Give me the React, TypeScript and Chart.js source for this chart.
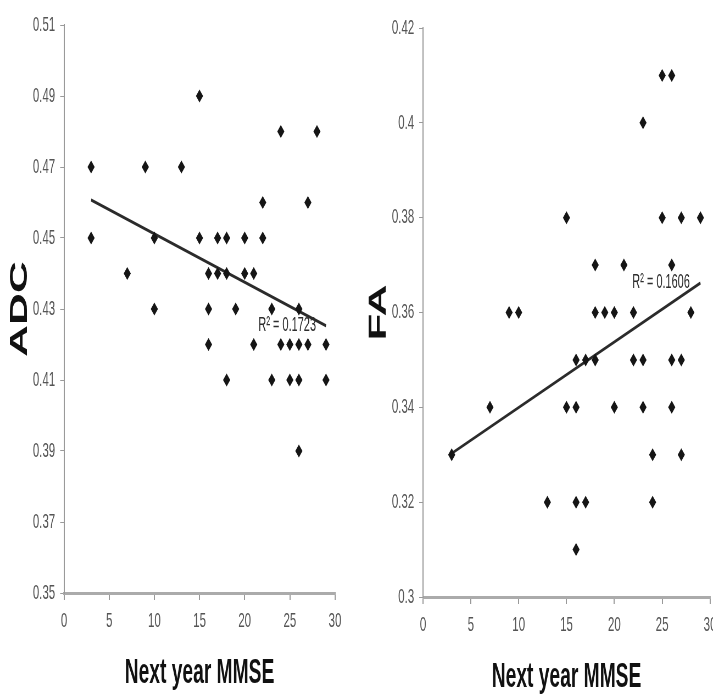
import React, { useEffect, useRef } from 'react';
import { Chart, registerables } from 'chart.js';

Chart.register(...registerables);

// ---------- data ----------
const xTicks = [0, 5, 10, 15, 20, 25, 30];
const adcTicks = [0.35, 0.37, 0.39, 0.41, 0.43, 0.45, 0.47, 0.49, 0.51];
const faTicks = [0.3, 0.32, 0.34, 0.36, 0.38, 0.4, 0.42];

const adcMmse = [3, 3, 7, 9, 10, 10, 13, 15, 15, 16, 16, 16, 17, 17, 18, 18, 18, 19, 20, 20, 21, 21, 22, 22, 23, 23, 24, 24, 25, 25, 26, 26, 26, 26, 27, 27, 28, 29, 29];
const adcValues = [0.47, 0.45, 0.44, 0.47, 0.45, 0.43, 0.47, 0.49, 0.45, 0.44, 0.43, 0.42, 0.45, 0.44, 0.45, 0.44, 0.41, 0.43, 0.45, 0.44, 0.44, 0.42, 0.46, 0.45, 0.43, 0.41, 0.48, 0.42, 0.42, 0.41, 0.43, 0.42, 0.41, 0.39, 0.46, 0.42, 0.48, 0.42, 0.41];

const faMmse = [25, 26, 23, 15, 25, 27, 29, 18, 21, 26, 9, 10, 18, 19, 20, 22, 28, 16, 17, 18, 22, 23, 26, 27, 7, 15, 16, 20, 23, 26, 3, 24, 27, 13, 16, 17, 24, 16];
const faValues = [0.41, 0.41, 0.4, 0.38, 0.38, 0.38, 0.38, 0.37, 0.37, 0.37, 0.36, 0.36, 0.36, 0.36, 0.36, 0.36, 0.36, 0.35, 0.35, 0.35, 0.35, 0.35, 0.35, 0.35, 0.34, 0.34, 0.34, 0.34, 0.34, 0.34, 0.33, 0.33, 0.33, 0.32, 0.32, 0.32, 0.32, 0.31];

const adcR2Label = 'R² = 0.1723';
const faR2Label = 'R² = 0.1606';
const xTitle = 'Next year MMSE';
const adcTitle = 'ADC';
const faTitle = 'FA';

// ---------- helpers ----------
const FONT = "'Liberation Sans', Arial, sans-serif";

function linearFit(xs: number[], ys: number[]) {
  const n = xs.length;
  const mx = xs.reduce((a, b) => a + b, 0) / n;
  const my = ys.reduce((a, b) => a + b, 0) / n;
  let sxy = 0;
  let sxx = 0;
  for (let i = 0; i < n; i++) {
    sxy += (xs[i] - mx) * (ys[i] - my);
    sxx += (xs[i] - mx) * (xs[i] - mx);
  }
  const slope = sxy / sxx;
  const icpt = my - slope * mx;
  const x0 = Math.min(...xs);
  const x1 = Math.max(...xs);
  return [
    { x: x0, y: icpt + slope * x0 },
    { x: x1, y: icpt + slope * x1 },
  ];
}

function r2Plugin(text: string, line: { x: number; y: number }[]) {
  return {
    id: 'r2label',
    afterDatasetsDraw(chart: any) {
      const { ctx } = chart;
      const xs = chart.scales.x;
      const ys = chart.scales.y;
      const end = line[1];
      const px = xs.getPixelForValue(end.x - 1.1);
      const py = ys.getPixelForValue(end.y);
      ctx.save();
      ctx.font = `20px ${FONT}`;
      ctx.fillStyle = '#2e2e2e';
      ctx.textAlign = 'right';
      ctx.textBaseline = 'middle';
      ctx.fillText(text, px, py);
      ctx.restore();
    },
  };
}

type PanelProps = {
  xs: number[];
  ys: number[];
  yTicks: number[];
  yTitle: string;
  r2: string;
  left: number;
  displayWidth: number;
  internalWidth: number;
  plotLeft: number;
  rightPad: number;
  topPad: number;
  xAxisHeight: number;
  yTitlePad: number;
  xTitlePad: number;
};

function ScatterPanel(p: PanelProps) {
  const ref = useRef<HTMLCanvasElement | null>(null);
  useEffect(() => {
    const points = p.xs.map((x, i) => ({ x, y: p.ys[i] }));
    const trend = linearFit(p.xs, p.ys);
    const yMin = Math.min(...p.yTicks);
    const yMax = Math.max(...p.yTicks);
    const chart = new Chart(ref.current as HTMLCanvasElement, {
      type: 'scatter',
      data: {
        datasets: [
          {
            data: points,
            pointStyle: 'rectRot',
            pointRadius: 6.5,
            pointHoverRadius: 6.5,
            backgroundColor: '#151515',
            borderColor: '#151515',
            borderWidth: 0,
            showLine: false,
          },
          {
            data: trend,
            showLine: true,
            pointRadius: 0,
            borderColor: '#2b2b2b',
            borderWidth: 3,
            fill: false,
          },
        ],
      } as any,
      options: {
        responsive: false,
        animation: false,
        devicePixelRatio: 1,
        events: [],
        layout: { padding: { left: 0, top: p.topPad, right: p.rightPad, bottom: 0 } },
        plugins: { legend: { display: false }, tooltip: { enabled: false } },
        scales: {
          x: {
            type: 'linear',
            min: 0,
            max: 30,
            afterBuildTicks: (s: any) => {
              s.ticks = xTicks.map((v) => ({ value: v }));
            },
            afterFit: (s: any) => {
              s.height = p.xAxisHeight;
            },
            border: { display: true, color: '#ababab', width: 3 },
            grid: { drawOnChartArea: false, drawTicks: true, tickLength: 7, tickColor: '#9a9a9a', lineWidth: 2 },
            ticks: {
              padding: 9,
              color: '#555',
              font: { family: FONT, size: 21 },
              maxRotation: 0,
              autoSkip: false,
              callback: (v: any) => String(v),
            },
            title: {
              display: true,
              text: xTitle,
              color: '#111',
              font: { family: FONT, size: 35, weight: 'bold' },
              padding: { top: 0, bottom: p.xTitlePad },
            },
          },
          y: {
            type: 'linear',
            min: yMin,
            max: yMax,
            afterBuildTicks: (s: any) => {
              s.ticks = p.yTicks.map((v) => ({ value: v }));
            },
            afterFit: (s: any) => {
              s.width = p.plotLeft;
            },
            border: { display: true, color: '#9a9a9a', width: 2 },
            grid: { drawOnChartArea: false, drawTicks: true, tickLength: 7, tickColor: '#9a9a9a', lineWidth: 1 },
            ticks: {
              padding: 9,
              color: '#555',
              font: { family: FONT, size: 21 },
              autoSkip: false,
              callback: (v: any) => String(Number(Number(v).toFixed(2))),
            },
            title: {
              display: true,
              text: p.yTitle,
              color: '#111',
              font: { family: FONT, size: 44, weight: 'bold' },
              padding: { top: p.yTitlePad, bottom: 0 },
            },
          },
        },
      } as any,
      plugins: [r2Plugin(p.r2, trend)],
    });
    return () => chart.destroy();
  }, []);
  return (
    <canvas
      ref={ref}
      width={p.internalWidth}
      height={698}
      style={{ position: 'absolute', left: p.left, top: 0, width: p.displayWidth, height: 698 }}
    />
  );
}

export default function App() {
  return (
    <div
      style={{
        position: 'fixed',
        left: 0,
        top: 0,
        width: 713,
        height: 698,
        overflow: 'hidden',
        background: '#fff',
      }}
    >
      <ScatterPanel
        xs={adcMmse}
        ys={adcValues}
        yTicks={adcTicks}
        yTitle={adcTitle}
        r2={adcR2Label}
        left={0}
        displayWidth={356}
        internalWidth={648}
        plotLeft={116.5}
        rightPad={38.2}
        topPad={25}
        xAxisHeight={105}
        yTitlePad={10}
        xTitlePad={4}
      />
      <ScatterPanel
        xs={faMmse}
        ys={faValues}
        yTicks={faTicks}
        yTitle={faTitle}
        r2={faR2Label}
        left={356}
        displayWidth={380}
        internalWidth={692}
        plotLeft={122}
        rightPad={47.35}
        topPad={28}
        xAxisHeight={101}
        yTitlePad={15.5}
        xTitlePad={0}
      />
    </div>
  );
}
